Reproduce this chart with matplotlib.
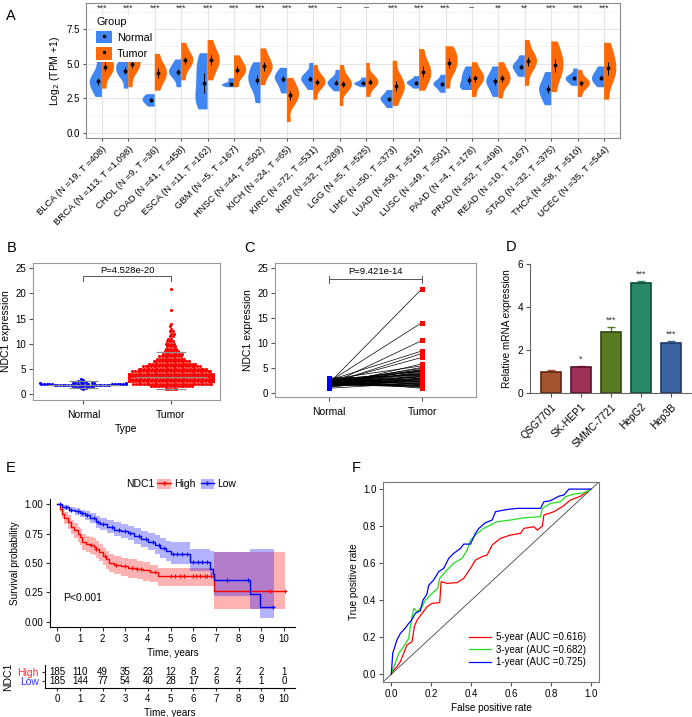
import numpy as np
import matplotlib
matplotlib.use('Agg')
import matplotlib.pyplot as plt
from matplotlib.patches import Patch
from matplotlib.lines import Line2D

plt.rcParams['font.family'] = ['Liberation Sans', 'DejaVu Sans']

# ---------------- DATA ----------------
# Panel A
cancers = ['BLCA', 'BRCA', 'CHOL', 'COAD', 'ESCA', 'GBM', 'HNSC', 'KICH', 'KIRC', 'KIRP',
           'LGG', 'LIHC', 'LUAD', 'LUSC', 'PAAD', 'PRAD', 'READ', 'STAD', 'THCA', 'UCEC']
cancer_labels = ['BLCA (N =19, T =408)', 'BRCA (N =113, T =1,098)', 'CHOL (N =9, T =36)',
                 'COAD (N =41, T =458)', 'ESCA (N =11, T =162)', 'GBM (N =5, T =167)',
                 'HNSC (N =44, T =502)', 'KICH (N =24, T =65)', 'KIRC (N =72, T =531)',
                 'KIRP (N =32, T =289)', 'LGG (N =5, T =525)', 'LIHC (N =50, T =373)',
                 'LUAD (N =59, T =515)', 'LUSC (N =49, T =501)', 'PAAD (N =4, T =178)',
                 'PRAD (N =52, T =496)', 'READ (N =10, T =167)', 'STAD (N =32, T =375)',
                 'THCA (N =58, T =510)', 'UCEC (N =35, T =544)']
significance = ['***', '***', '***', '***', '***', '***', '***', '***', '***', '-',
                '-', '***', '***', '***', '-', '**', '**', '***', '***', '***']
# per group: min, p10, q1, median, q3, p90, max  (log2 TPM+1)
normal_quantiles = [
    [2.6, 3.1, 3.45, 3.75, 4.0, 4.5, 5.3],
    [3.2, 3.9, 4.25, 4.5, 4.75, 5.0, 5.3],
    [1.9, 2.1, 2.25, 2.38, 2.5, 2.65, 2.8],
    [3.3, 3.9, 4.2, 4.42, 4.6, 4.9, 5.3],
    [1.7, 2.3, 2.9, 3.6, 4.3, 5.0, 5.75],
    [3.3, 3.4, 3.45, 3.53, 3.6, 3.8, 3.95],
    [2.15, 3.0, 3.5, 3.85, 4.2, 4.6, 5.1],
    [2.85, 3.3, 3.65, 3.9, 4.1, 4.35, 4.7],
    [3.1, 3.5, 3.75, 3.92, 4.1, 4.4, 5.05],
    [3.0, 3.3, 3.5, 3.63, 3.8, 4.05, 4.55],
    [3.3, 3.45, 3.52, 3.58, 3.66, 3.8, 4.0],
    [1.8, 2.1, 2.3, 2.45, 2.6, 2.8, 3.1],
    [3.2, 3.4, 3.52, 3.63, 3.72, 3.85, 4.1],
    [2.9, 3.2, 3.4, 3.53, 3.65, 3.85, 4.2],
    [3.1, 3.3, 3.5, 3.82, 4.1, 4.4, 4.8],
    [2.6, 3.1, 3.45, 3.73, 3.95, 4.3, 4.8],
    [4.05, 4.35, 4.6, 4.78, 4.95, 5.2, 5.6],
    [2.0, 2.5, 2.85, 3.17, 3.45, 3.85, 4.4],
    [3.4, 3.65, 3.8, 3.94, 4.05, 4.25, 4.65],
    [3.3, 3.6, 3.8, 4.0, 4.2, 4.45, 4.8],
]
tumor_quantiles = [
    [3.2, 4.1, 4.45, 4.78, 5.1, 5.5, 6.0],
    [3.3, 4.3, 4.7, 5.0, 5.3, 5.7, 6.5],
    [3.05, 3.7, 4.0, 4.35, 4.65, 5.0, 5.7],
    [3.8, 4.6, 4.95, 5.25, 5.5, 5.85, 6.5],
    [3.8, 4.5, 4.9, 5.25, 5.6, 6.0, 6.7],
    [3.3, 4.0, 4.3, 4.57, 4.8, 5.1, 5.6],
    [3.45, 4.2, 4.5, 4.82, 5.1, 5.5, 6.1],
    [0.8, 2.0, 2.4, 2.74, 3.05, 3.4, 3.97],
    [2.4, 3.2, 3.45, 3.7, 3.9, 4.2, 4.9],
    [1.95, 3.0, 3.3, 3.53, 3.75, 4.1, 4.9],
    [2.6, 3.3, 3.5, 3.7, 3.9, 4.2, 5.05],
    [1.95, 2.7, 3.05, 3.4, 3.75, 4.2, 5.2],
    [3.05, 3.7, 4.05, 4.42, 4.8, 5.25, 6.05],
    [3.2, 4.2, 4.65, 5.05, 5.4, 5.8, 6.25],
    [2.6, 3.35, 3.7, 3.97, 4.2, 4.5, 5.1],
    [2.5, 3.3, 3.65, 3.94, 4.2, 4.55, 5.1],
    [3.4, 4.4, 4.85, 5.17, 5.45, 5.85, 6.7],
    [2.95, 3.9, 4.4, 4.9, 5.35, 5.85, 6.6],
    [2.6, 3.15, 3.4, 3.58, 3.75, 4.0, 4.55],
    [2.4, 3.6, 4.15, 4.65, 5.15, 5.7, 6.5],
]

# Panel B (frequency table of NDC1 expression values)
b_normal_levels = [0.9, 1.2, 1.4, 1.6, 1.7, 1.8, 1.9, 2.0, 2.1, 2.2, 2.4, 2.6, 2.8, 3.0]
b_normal_counts = [1, 2, 3, 4, 6, 9, 8, 5, 4, 3, 2, 1, 1, 1]
b_tumor_levels = [1.0, 1.5, 2.0, 2.5, 3.0, 3.5, 4.0, 4.5, 5.0, 5.5, 6.0, 6.5, 7.0, 7.5, 8.0,
                  8.5, 9.0, 9.5, 10.0, 10.5, 11.0, 11.5, 12.0, 12.5, 13.0, 13.5, 14.0, 16.8, 20.9]
b_tumor_counts = [5, 16, 30, 38, 40, 38, 34, 30, 26, 22, 18, 14, 11, 9, 8,
                  6, 5, 4, 4, 3, 2, 2, 2, 2, 1, 1, 1, 1, 1]
b_normal_summary = [1.2, 1.85, 2.6]
b_tumor_summary = [1.0, 3.45, 8.3]
b_pvalue = 'P=4.528e-20'

# Panel C (paired samples)
c_normal = [1.9, 2.2, 1.6, 2.5, 1.8, 2.0, 1.4, 2.7, 1.7, 2.1, 1.5, 2.3, 1.9, 1.2, 2.6, 1.8, 2.0,
            1.6, 2.4, 1.3, 2.9, 1.7, 2.2, 1.9, 1.1, 2.0, 1.8, 2.5, 1.5, 2.1, 1.9, 2.3, 1.7, 0.9,
            2.0, 1.6, 2.8, 1.8, 1.4, 2.2, 1.9, 2.1, 1.7, 2.4, 1.5, 2.0, 1.8, 2.6, 1.3, 3.0]
c_tumor = [20.9, 14.1, 10.5, 8.4, 7.9, 7.1, 5.8, 5.4, 5.1, 4.9, 4.7, 4.6, 4.4, 4.3, 4.3, 4.1,
           3.9, 3.8, 3.8, 3.6, 3.5, 3.3, 3.2, 3.2, 3.0, 2.9, 2.8, 2.8, 2.6, 2.5, 2.3, 2.2, 2.1,
           2.0, 1.9, 1.8, 1.7, 1.6, 1.5, 1.4, 1.3, 1.2, 1.1, 0.9, 3.4, 4.5, 2.7, 3.7, 2.4, 1.6]
c_pvalue = 'P=9.421e-14'

# Panel D
cell_lines = ['QSG7701', 'SK-HEP1', 'SMMC-7721', 'HepG2', 'Hep3B']
rel_expr = [0.97, 1.21, 2.86, 5.10, 2.35]
rel_err = [0.09, 0.07, 0.23, 0.12, 0.09]
rel_sig = ['', '*', '***', '***', '***']

# Panel E (Kaplan-Meier)
high_t = [0, 0.1, 0.2, 0.3, 0.45, 0.6, 0.75, 0.9, 1.0, 1.1, 1.25, 1.45, 1.6, 1.7, 1.85, 2.0, 2.15,
          2.3, 2.5, 2.8, 3.1, 3.5, 3.8, 4.1, 4.45, 6.9, 10.05]
high_s = [1.0, 0.96, 0.92, 0.88, 0.85, 0.81, 0.78, 0.75, 0.72, 0.68, 0.66, 0.65, 0.64, 0.62, 0.59,
          0.56, 0.53, 0.50, 0.485, 0.475, 0.46, 0.45, 0.44, 0.42, 0.39, 0.26, 0.26]
high_up = [1.0, 0.99, 0.96, 0.93, 0.905, 0.87, 0.84, 0.81, 0.79, 0.75, 0.73, 0.72, 0.71, 0.69, 0.66,
           0.63, 0.60, 0.58, 0.56, 0.545, 0.53, 0.515, 0.505, 0.485, 0.46, 0.59, 0.59]
high_lo = [1.0, 0.93, 0.88, 0.83, 0.79, 0.75, 0.71, 0.68, 0.65, 0.61, 0.59, 0.58, 0.565, 0.545, 0.515,
           0.48, 0.45, 0.42, 0.41, 0.39, 0.375, 0.365, 0.35, 0.335, 0.30, 0.11, 0.11]
high_cens = [1.5, 1.7, 2.1, 2.6, 3.0, 3.3, 3.5, 3.7, 4.3, 5.0, 5.2, 5.4, 5.6, 6.0, 6.1, 6.3, 6.5,
             6.6, 6.8, 9.4, 10.05]
low_t = [0, 0.2, 0.5, 0.8, 1.0, 1.2, 1.45, 1.7, 1.9, 2.2, 2.5, 2.8, 3.1, 3.4, 3.7, 4.0, 4.3, 4.55,
         4.8, 5.0, 5.85, 6.75, 6.85, 6.92, 8.52, 8.94, 9.56]
low_s = [1.0, 0.975, 0.955, 0.94, 0.925, 0.905, 0.88, 0.85, 0.83, 0.81, 0.785, 0.77, 0.755, 0.73,
         0.705, 0.68, 0.655, 0.625, 0.60, 0.58, 0.51, 0.445, 0.405, 0.355, 0.233, 0.122, 0.122]
low_up = [1.0, 0.99, 0.975, 0.965, 0.955, 0.94, 0.925, 0.90, 0.885, 0.865, 0.845, 0.83, 0.815, 0.795,
          0.775, 0.755, 0.735, 0.71, 0.69, 0.675, 0.62, 0.60, 0.60, 0.597, 0.616, 0.616, 0.616]
low_lo = [1.0, 0.955, 0.93, 0.91, 0.895, 0.87, 0.84, 0.80, 0.78, 0.755, 0.73, 0.71, 0.695, 0.665,
          0.64, 0.61, 0.58, 0.545, 0.515, 0.49, 0.43, 0.40, 0.37, 0.22, 0.11, 0.03, 0.03]
low_cens = [0.1, 0.4, 0.6, 0.9, 1.1, 1.3, 1.6, 1.8, 2.0, 2.4, 2.7, 3.0, 3.2, 3.6, 3.9, 4.2, 4.5, 4.7,
            5.1, 5.3, 5.5, 5.7, 6.0, 6.2, 6.4, 6.6, 7.5, 8.4, 9.5]
risk_times = [0, 1, 2, 3, 4, 5, 6, 7, 8, 9, 10]
risk_high = [185, 110, 49, 35, 23, 12, 8, 2, 2, 2, 1]
risk_low = [185, 144, 77, 54, 40, 28, 17, 6, 4, 1, 0]

# Panel F (ROC)
fpr1 = [0, 0.007, 0.028, 0.045, 0.07, 0.087, 0.10, 0.12, 0.145, 0.158, 0.178, 0.187, 0.212, 0.237,
        0.262, 0.287, 0.312, 0.346, 0.362, 0.396, 0.42, 0.437, 0.47, 0.504, 0.521, 0.58, 0.629,
        0.746, 0.763, 0.796, 0.838, 0.863, 0.888, 0.997]
tpr1 = [0, 0.113, 0.185, 0.22, 0.25, 0.275, 0.29, 0.33, 0.343, 0.40, 0.433, 0.48, 0.51, 0.554,
        0.572, 0.626, 0.653, 0.68, 0.703, 0.703, 0.76, 0.787, 0.818, 0.833, 0.878, 0.89, 0.896,
        0.896, 0.932, 0.937, 0.962, 0.968, 1.0, 1.0]
fpr3 = [0, 0.008, 0.02, 0.037, 0.062, 0.087, 0.095, 0.112, 0.129, 0.154, 0.17, 0.204, 0.232, 0.242,
        0.27, 0.312, 0.354, 0.379, 0.396, 0.429, 0.462, 0.496, 0.53, 0.596, 0.663, 0.746, 0.755,
        0.796, 0.846, 0.871, 0.913, 0.963, 0.997]
tpr3 = [0, 0.03, 0.06, 0.113, 0.15, 0.194, 0.257, 0.356, 0.338, 0.365, 0.40, 0.437, 0.464, 0.518,
        0.554, 0.60, 0.626, 0.671, 0.725, 0.76, 0.788, 0.806, 0.824, 0.833, 0.845, 0.851, 0.896,
        0.923, 0.932, 0.959, 0.973, 0.98, 0.998]
fpr5 = [0, 0.012, 0.028, 0.045, 0.062, 0.078, 0.104, 0.115, 0.129, 0.154, 0.179, 0.204, 0.242, 0.249,
        0.279, 0.329, 0.362, 0.396, 0.421, 0.454, 0.479, 0.504, 0.546, 0.596, 0.646, 0.663, 0.713,
        0.73, 0.755, 0.763, 0.813, 0.855, 0.896, 0.947, 0.997]
tpr5 = [0, 0.023, 0.041, 0.068, 0.113, 0.158, 0.176, 0.257, 0.293, 0.329, 0.365, 0.383, 0.387, 0.5,
        0.491, 0.495, 0.518, 0.572, 0.617, 0.635, 0.644, 0.698, 0.734, 0.752, 0.761, 0.788, 0.797,
        0.779, 0.80, 0.86, 0.878, 0.905, 0.941, 0.962, 1.0]
roc_labels = ['5-year (AUC =0.616)', '3-year (AUC =0.682)', '1-year (AUC =0.725)']

# ---------------- FIGURE ----------------
W, H = 692, 717
fig = plt.figure(figsize=(W / 100, H / 100), dpi=100)


def add_ax(x0, y0, x1, y1):
    return fig.add_axes([x0 / W, 1 - y1 / H, (x1 - x0) / W, (y1 - y0) / H])


def panel_label(ch, x, y):
    fig.text(x / W, 1 - y / H, ch, fontsize=10.5, ha='left', va='center')


BLUE_A = '#3f86f2'
ORANGE_A = '#fd6a05'

# ---------------- Panel A ----------------
axA = add_ax(86, 3, 620, 138)
pos = np.arange(1, len(cancers) + 1)
axA.set_xlim(0.4, 20.6)
axA.set_ylim(-0.36, 9.37)
axA.set_yticks([0, 2.5, 5, 7.5])
axA.set_yticklabels(['0.0', '2.5', '5.0', '7.5'])
axA.set_yticks([1.25, 3.75, 6.25, 8.75], minor=True)
axA.set_axisbelow(True)
axA.grid(True, which='major', color='#e4e4e4', lw=0.8)
axA.grid(True, which='minor', axis='y', color='#f0f0f0', lw=0.5)
axA.tick_params(which='minor', length=0)
axA.tick_params(which='major', length=2.5, color='#555555', labelsize=7, pad=2)
for s in axA.spines.values():
    s.set_color('#8a8a8a')
    s.set_linewidth(0.8)


def half_violins(ax, data, positions, color, side):
    parts = ax.violinplot(data, positions=positions, widths=0.92, showextrema=False,
                          bw_method=0.45, points=150)
    for body, p in zip(parts['bodies'], positions):
        v = body.get_paths()[0].vertices.copy()
        if side == 'left':
            v[:, 0] = np.minimum(v[:, 0], p)
        else:
            v[:, 0] = np.maximum(v[:, 0], p)
        body.set_verts([v])
        body.set_facecolor(color)
        body.set_edgecolor('none')
        body.set_alpha(1)
        body.set_zorder(2)


half_violins(axA, normal_quantiles, pos, BLUE_A, 'left')
half_violins(axA, tumor_quantiles, pos, ORANGE_A, 'right')

nq = np.array(normal_quantiles)
tq = np.array(tumor_quantiles)
axA.errorbar(pos - 0.13, nq[:, 3], yerr=[nq[:, 3] - nq[:, 2], nq[:, 4] - nq[:, 3]],
             fmt='o', ms=1.8, color='black', elinewidth=0.7, capsize=0, zorder=4)
axA.errorbar(pos + 0.13, tq[:, 3], yerr=[tq[:, 3] - tq[:, 2], tq[:, 4] - tq[:, 3]],
             fmt='o', ms=1.8, color='black', elinewidth=0.7, capsize=0, zorder=4)
for p, s in zip(pos, significance):
    if s == '-':
        axA.text(p, 9.0, '\u2013', ha='center', va='center', fontsize=6.5, color='#333333')
    else:
        axA.text(p, 9.0, s, ha='center', va='center', fontsize=6.5, color='#333333')
axA.set_xticks(pos)
axA.set_xticklabels(cancer_labels, rotation=45, ha='right', rotation_mode='anchor',
                    fontsize=6.8)
axA.set_ylabel(r'Log$_2$ (TPM +1)', fontsize=7.5, labelpad=3)

hN = (Patch(facecolor=BLUE_A, edgecolor='none'),
      Line2D([], [], marker='o', ms=1.5, color='black', ls=''))
hT = (Patch(facecolor=ORANGE_A, edgecolor='none'),
      Line2D([], [], marker='o', ms=1.5, color='black', ls=''))
legA = axA.legend([hN, hT], ['Normal', 'Tumor'], title='Group', loc='upper left',
                  bbox_to_anchor=(0.005, 0.95), fontsize=7.8, title_fontsize=7.8,
                  frameon=True, facecolor='white', edgecolor='none', framealpha=1,
                  handlelength=1.45, handleheight=1.45, handletextpad=0.45,
                  labelspacing=0.3, borderpad=0.2, alignment='left')
panel_label('A', 6, 16)

# ---------------- swarm helper ----------------


def swarm_offsets(values, d, maxw):
    ys = np.asarray(values, dtype=float)
    order = np.argsort(ys, kind='stable')
    px_list, py_list = [], []
    out = np.zeros(len(ys))
    for idx in order:
        y = ys[idx]
        intervals = []
        cands = [0.0]
        for qx, qy in zip(px_list, py_list):
            dy = abs(y - qy)
            if dy < d:
                w = np.sqrt(d * d - dy * dy)
                intervals.append((qx - w, qx + w))
                cands.extend([qx - w, qx + w])
        cands.sort(key=abs)
        chosen = 0.0
        for c in cands:
            ok = True
            for lo, hi in intervals:
                if lo + 1e-6 < c < hi - 1e-6:
                    ok = False
                    break
            if ok:
                chosen = c
                break
        px_list.append(chosen)
        py_list.append(y)
        out[idx] = max(-maxw, min(maxw, chosen))
    return out


# ---------------- Panel B ----------------
axB = add_ax(33, 263, 220, 400)
xlB = (0.424, 2.56)
ylB = (-1.2, 26.05)
axB.set_xlim(*xlB)
axB.set_ylim(*ylB)
sxB = 187 / (xlB[1] - xlB[0])
syB = 137 / (ylB[1] - ylB[0])
nvals = np.repeat(b_normal_levels, b_normal_counts)
tvals = np.repeat(b_tumor_levels, b_tumor_counts)
offN = swarm_offsets(nvals * syB, 2.7, 43)
offT = swarm_offsets(tvals * syB, 2.7, 42)
axB.scatter(1 + offN / sxB, nvals, s=5.0, c='#0000ff', linewidths=0, zorder=2)
axB.scatter(2 + offT / sxB, tvals, s=5.0, c='#ff0000', linewidths=0, zorder=2)
axB.hlines([b_normal_summary[0], b_normal_summary[2]], 1 - 0.17, 1 + 0.17, color='#8c8c8c',
           lw=0.9, zorder=3)
axB.hlines(b_normal_summary[1], 1 - 0.42, 1 + 0.42, color='#8c8c8c', lw=0.9, zorder=3)
axB.hlines([b_tumor_summary[0], b_tumor_summary[2]], 2 - 0.17, 2 + 0.17, color='#8c8c8c',
           lw=0.9, zorder=3)
axB.hlines(b_tumor_summary[1], 2 - 0.40, 2 + 0.40, color='#8c8c8c', lw=0.9, zorder=3)
axB.plot([1, 1, 2, 2], [22.5, 23.5, 23.5, 22.5], color='#555555', lw=0.7)
axB.text(1.5, 24.6, b_pvalue, ha='center', va='center', fontsize=6.8)
axB.set_yticks([0, 5, 10, 15, 20, 25])
axB.set_xticks([1, 2])
axB.set_xticklabels(['Normal', 'Tumor'])
axB.tick_params(labelsize=7, length=3, color='#555555', pad=2)
axB.tick_params(axis='x', labelsize=7.5, pad=4)
axB.set_ylabel('NDC1 expression', fontsize=7.5, labelpad=3)
axB.set_xlabel('Type', fontsize=7.5, labelpad=3)
for s in axB.spines.values():
    s.set_color('#999999')
    s.set_linewidth(0.8)
panel_label('B', 7, 248)

# ---------------- Panel C ----------------
axC = add_ax(275, 263, 476, 397)
axC.set_xlim(0.42, 2.58)
axC.set_ylim(-0.86, 26.07)
for a, b in zip(c_normal, c_tumor):
    axC.plot([1, 2], [a, b], color='black', lw=0.5, zorder=2)
axC.plot(np.ones(len(c_normal)), c_normal, 's', color='#0000ff', ms=3.6, mew=0, zorder=3)
axC.plot(np.full(len(c_tumor), 2), c_tumor, 's', color='#ff0000', ms=3.6, mew=0, zorder=3)
axC.plot([1, 2], [22.8, 22.8], color='#555555', lw=0.7)
axC.plot([1, 1], [22.1, 23.5], color='#555555', lw=0.7)
axC.plot([2, 2], [22.1, 23.5], color='#555555', lw=0.7)
axC.text(1.5, 24.3, c_pvalue, ha='center', va='center', fontsize=6.8)
axC.set_yticks([0, 5, 10, 15, 20, 25])
axC.set_xticks([1, 2])
axC.set_xticklabels(['Normal', 'Tumor'])
axC.tick_params(labelsize=7, length=3, color='#555555', pad=2)
axC.tick_params(axis='x', labelsize=7.5, pad=4)
axC.set_ylabel('NDC1 expression', fontsize=7.5, labelpad=3)
for s in axC.spines.values():
    s.set_color('#999999')
    s.set_linewidth(0.8)
panel_label('C', 244, 248)

# ---------------- Panel D ----------------
axD = add_ax(530, 264, 692, 393.3)
fills = ['#a5552f', '#a0325a', '#5b7a24', '#2a8a68', '#3b64a3']
edges = ['#5e2410', '#5a0f2e', '#2f4510', '#0d4a34', '#1c3a6a']
xd = np.arange(len(cell_lines))
axD.bar(xd, rel_expr, width=0.66, color=fills, edgecolor=edges, linewidth=1.2, zorder=2)
for i in range(len(xd)):
    axD.errorbar(xd[i], rel_expr[i], yerr=[[0], [rel_err[i]]], color=fills[i], capsize=3,
                 elinewidth=1.0, capthick=1.0, zorder=1)
    if rel_sig[i]:
        axD.text(xd[i], rel_expr[i] + rel_err[i] + 0.1, rel_sig[i], ha='center', va='bottom',
                 fontsize=6.5, color='#333333')
axD.set_xlim(-0.7, 4.7)
axD.set_ylim(0, 6)
axD.set_yticks([0, 2, 4, 6])
axD.set_xticks(xd)
axD.set_xticklabels(cell_lines, rotation=45, ha='right', rotation_mode='anchor', fontsize=7.3)
axD.tick_params(labelsize=7.3, length=3, color='#555555', pad=2)
axD.tick_params(axis='x', pad=3)
axD.spines['top'].set_visible(False)
axD.spines['right'].set_visible(False)
for s in ['left', 'bottom']:
    axD.spines[s].set_color('#666666')
    axD.spines[s].set_linewidth(0.8)
axD.set_ylabel('Relative mRNA expression', fontsize=7.2, labelpad=4)
panel_label('D', 506, 247)

# ---------------- Panel E ----------------
axE = add_ax(50, 499, 295, 627.3)
axE.set_xlim(-0.322, 10.485)
axE.set_ylim(-0.048, 1.045)
axE.fill_between(high_t, high_lo, high_up, step='post', color='#ff0000', alpha=0.3, lw=0)
axE.fill_between(low_t, low_lo, low_up, step='post', color='#0000ff', alpha=0.3, lw=0)
axE.step(high_t, high_s, where='post', color='#ff0000', lw=1.0)
axE.step(low_t, low_s, where='post', color='#0000ff', lw=1.0)
ht = np.array(high_t)
lt = np.array(low_t)
hc_s = np.array(high_s)[np.searchsorted(ht, high_cens, side='right') - 1]
lc_s = np.array(low_s)[np.searchsorted(lt, low_cens, side='right') - 1]
axE.plot(high_cens, hc_s, '+', color='#ff0000', ms=3.5, mew=0.8)
axE.plot(low_cens, lc_s, '+', color='#0000ff', ms=3.5, mew=0.8)
axE.text(0.24, 0.2, 'P<0.001', fontsize=7.5, ha='left', va='center')
axE.set_yticks([0, 0.25, 0.5, 0.75, 1.0])
axE.set_yticklabels(['0.00', '0.25', '0.50', '0.75', '1.00'])
axE.set_xticks(risk_times)
axE.tick_params(labelsize=7, length=3, color='#333333', pad=2)
axE.spines['top'].set_visible(False)
axE.spines['right'].set_visible(False)
axE.set_ylabel('Survival probability', fontsize=7.2, labelpad=3)
axE.set_xlabel('Time, years', fontsize=7.2, labelpad=3)
fig.text(126 / W, 1 - 484 / H, 'NDC1', fontsize=7.5, va='center', ha='left')
hH = (Patch(facecolor='#ff0000', alpha=0.3, edgecolor='none'),
      Line2D([], [], color='#ff0000', lw=1, marker='+', ms=3.5))
hL = (Patch(facecolor='#0000ff', alpha=0.3, edgecolor='none'),
      Line2D([], [], color='#0000ff', lw=1, marker='+', ms=3.5))
fig.legend([hH, hL], ['High', 'Low'], loc='center left',
           bbox_to_anchor=(151 / W, 1 - 484 / H), ncol=2, frameon=False, fontsize=7.5,
           handlelength=1.3, handleheight=1.1, handletextpad=0.3, columnspacing=0.5,
           borderpad=0.1)
panel_label('E', 6, 468)

# risk table
axR = add_ax(45, 665, 295, 688)
axR.set_xlim(-0.54, 10.485)
axR.set_ylim(-0.7, 1.7)
for t, nh, nl in zip(risk_times, risk_high, risk_low):
    axR.text(t, 1, str(nh), ha='center', va='center', fontsize=7)
    axR.text(t, 0, str(nl), ha='center', va='center', fontsize=7)
axR.set_yticks([1, 0])
axR.set_yticklabels(['High', 'Low'])
for lab, col in zip(axR.get_yticklabels(), ['#ff3030', '#3030ff']):
    lab.set_color(col)
axR.set_xticks(risk_times)
axR.tick_params(labelsize=7, length=2.5, color='#333333', pad=2)
axR.tick_params(axis='y', labelsize=7.5)
axR.spines['top'].set_visible(False)
axR.spines['right'].set_visible(False)
axR.set_xlabel('Time, years', fontsize=7.2, labelpad=3)
axR.set_ylabel('NDC1', fontsize=7.5, labelpad=3)

# ---------------- Panel F ----------------
axF = add_ax(383.3, 481.7, 599.3, 681.7)
axF.set_xlim(-0.04, 1.04)
axF.set_ylim(-0.04, 1.04)
axF.plot([-0.04, 1.04], [-0.04, 1.04], color='#444444', lw=0.6)
axF.plot(fpr5, tpr5, color='#ff0000', lw=0.9, label=roc_labels[0])
axF.plot(fpr3, tpr3, color='#22dd22', lw=0.9, label=roc_labels[1])
axF.plot(fpr1, tpr1, color='#0000ff', lw=0.9, label=roc_labels[2])
axF.legend(loc='lower right', bbox_to_anchor=(0.98, 0.03), frameon=False, fontsize=7,
           handlelength=2.3, handletextpad=0.5, labelspacing=0.25)
ticksF = [0, 0.2, 0.4, 0.6, 0.8, 1.0]
axF.set_xticks(ticksF)
axF.set_yticks(ticksF)
axF.set_xticklabels(['0.0', '0.2', '0.4', '0.6', '0.8', '1.0'])
axF.set_yticklabels(['0.0', '0.2', '0.4', '0.6', '0.8', '1.0'])
axF.tick_params(labelsize=7, length=3, color='#555555', pad=2)
for s in axF.spines.values():
    s.set_color('#777777')
    s.set_linewidth(0.8)
axF.set_xlabel('False positive rate', fontsize=7.2, labelpad=3)
axF.set_ylabel('True positive rate', fontsize=7.2, labelpad=3)
panel_label('F', 352, 468)

fig.savefig('out.png', dpi=100)
